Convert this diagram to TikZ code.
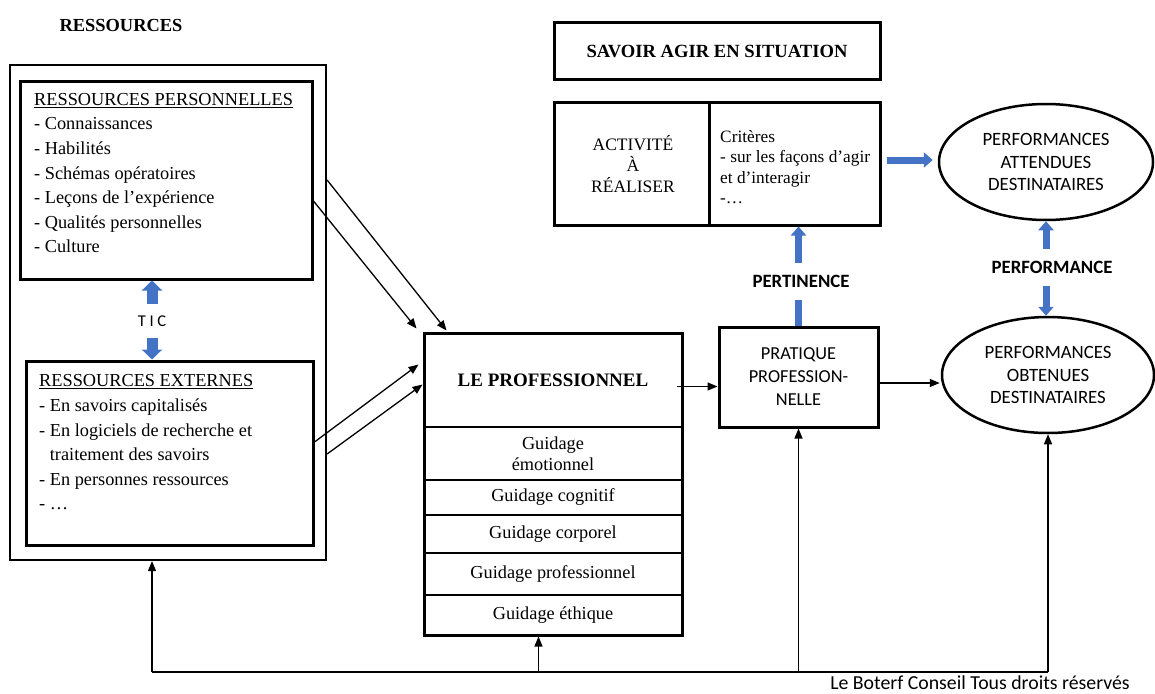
\documentclass[tikz,border=0pt]{standalone}
\usepackage{fontspec}
\setmainfont{Liberation Serif}
\newfontfamily\calib{Carlito}
\usetikzlibrary{arrows.meta,calc,shapes.geometric}
\definecolor{officeblue}{HTML}{4472C4}
\tikzset{
  box/.style={draw, line width=3pt, inner sep=0pt},
  band/.style={inner sep=0pt, minimum width=258pt, align=center, font=\fontsize{18.3}{20.5}\selectfont},
  ell/.style={draw, ellipse, line width=2.5pt, inner sep=0pt, minimum width=214pt, minimum height=116pt, align=center, font=\calib\fontsize{18.8}{22.8}\selectfont},
  conn/.style={line width=1.3pt, -{Triangle[width=8pt,length=10pt]}},
  plainconn/.style={line width=1.3pt},
  bluemid/.style={officeblue, line width=7pt, -{Triangle[width=15pt,length=9pt]}},
  bluemidboth/.style={officeblue, line width=7pt, {Triangle[width=15pt,length=9pt]}-{Triangle[width=15pt,length=9pt]}},
  bluebigboth/.style={officeblue, line width=11pt, {Triangle[width=20pt,length=10pt]}-{Triangle[width=20pt,length=10pt]}},
  listtext/.style={inner sep=0pt, anchor=north west, align=left, font=\fontsize{18.3}{24.6}\selectfont},
  bluelabel/.style={fill=white, inner xsep=2pt, inner ysep=0pt, minimum height=37pt, font=\calib\bfseries\fontsize{18.8}{22}\selectfont}
}
\begin{document}
\begin{tikzpicture}[x=1pt,y=-1pt]
\useasboundingbox (0,0) rectangle (1155,693);

% titles
\node[font=\bfseries\fontsize{18.4}{22}\selectfont] (restitle) at (121,25) {RESSOURCES};

% left boxes
\node[draw, line width=2.2pt, minimum width=316pt, minimum height=495pt, inner sep=0pt] (outer) at (168,312.5) {};
\node[box, minimum width=292pt, minimum height=198pt] (personal) at (166,180) {};
\node[listtext] (personaltext) at (34,93) {\underline{RESSOURCES PERSONNELLES}\\- Connaissances\\- Habilités\\- Schémas opératoires\\- Leçons de l’expérience\\- Qualités personnelles\\- Culture};
\node[box, minimum width=287pt, minimum height=184pt] (ext) at (169.5,453) {};
\node[listtext] (exttext) at (39,374.5) {\underline{RESSOURCES EXTERNES}\\- En savoirs capitalisés\\- En logiciels de recherche et\\\hphantom{- }traitement des savoirs\\- En personnes ressources\\- \dots};

% TIC
\coordinate (ticpos) at (152,321);
\draw[bluebigboth] (ticpos |- ext.north) -- (ticpos |- personal.south);
\node[fill=white, inner sep=1pt, minimum height=34pt, font=\calib\fontsize{16.5}{18}\selectfont] (tic) at (ticpos) {T I C};

% professionnel
\node[box, minimum width=258pt, minimum height=302pt] (prof) at (553,484) {};
\node[font=\bfseries\fontsize{19}{22}\selectfont] (proftitle) at (553,380) {LE PROFESSIONNEL};
\node[band, minimum height=53pt] (g1) at (553,453.5) {Guidage\\émotionnel};
\node[band, minimum height=35pt] (g2) at (553,497.5) {Guidage cognitif};
\node[band, minimum height=38pt] (g3) at (553,534) {Guidage corporel};
\node[band, minimum height=42pt] (g4) at (553,574) {Guidage professionnel};
\node[band, minimum height=40pt] (g5) at (553,615) {Guidage éthique};
\foreach \g in {g1,g2,g3,g4,g5} \draw[line width=2pt] (\g.north west) -- (\g.north east);

% savoir agir
\node[box, minimum width=326pt, minimum height=56pt, font=\bfseries\fontsize{18.6}{22}\selectfont] (savoir) at (717,51) {SAVOIR AGIR EN SITUATION};
\node[box, minimum width=326pt, minimum height=123pt] (activite) at (717,163.5) {};
\draw[line width=3pt] ($(activite.north west)+(157,0)$) -- ($(activite.south west)+(157,0)$);
\node[align=center, inner sep=0pt, font=\fontsize{17.5}{21}\selectfont] (acttext) at (633,164) {ACTIVITÉ\\À\\RÉALISER};
\node[listtext, font=\fontsize{17.3}{20.5}\selectfont] (crit) at (720,130) {Critères\\- sur les façons d’agir\\et d’interagir\\-\dots};

% pratique
\node[box, minimum width=159pt, minimum height=100pt, align=center, font=\calib\fontsize{18.3}{23}\selectfont] (pratique) at (798.5,377) {PRATIQUE\\PROFESSION-\\NELLE};

% ellipses
\node[ell] (att) at (1046,162) {PERFORMANCES\\ATTENDUES\\DESTINATAIRES};
\node[ell, minimum width=212pt] (obt) at (1048,375) {PERFORMANCES\\OBTENUES\\DESTINATAIRES};

% blue arrows
\draw[bluemid] (pratique.north) -- (pratique.north |- activite.south);
\node[bluelabel] (pert) at (801,281) {PERTINENCE};
\draw[bluemidboth] (att.south) -- (att.south |- obt.north);
\node[bluelabel] (perf) at (1052,267) {PERFORMANCE};
\coordinate (hstart) at ($(activite.east)+(5,-3.5)$);
\draw[bluemid] (hstart) -- ($(hstart -| att.west)+(-5,0)$);

% black connectors
\coordinate (ps1) at ($(personal.east)+(0,21)$);
\coordinate (ps2) at (outer.east |- personal.east);
\draw[conn] (ps1) -- ($(prof.north west)+(-6,-3)$);
\draw[conn] (ps2) -- ($(prof.north west)+(24,-1)$);
\coordinate (es1) at ($(ext.east)+(0,-11)$);
\coordinate (es2) at (outer.east |- {$(ext.east)+(0,1)$});
\draw[conn] (es1) -- ($(prof.north west)+(-4,33)$);
\draw[conn] (es2) -- ($(prof.north west)+(0,53)$);

\coordinate (pp) at ($(prof.north east)+(-7,55)$);
\draw[conn] (pp) -- (pp -| pratique.west);
\coordinate (po) at ($(pratique.east)+(0,6)$);
\draw[conn] (po) -- ($(po -| obt.west)+(-1,0)$);

% feedback loop
\coordinate (bl) at (152,672);
\coordinate (br) at (obt.south |- bl);
\coordinate (pb) at ($(prof.south west)+(116,0)$);
\draw[plainconn] (bl) -- (br);
\draw[conn] (bl) -- (bl |- outer.south);
\draw[conn] (pb |- bl) -- (pb);
\draw[conn] (pratique.south |- bl) -- (pratique.south);
\draw[conn] (br) -- (obt.south);

% copyright
\node[anchor=base, inner sep=0pt, font=\calib\fontsize{19.8}{21}\selectfont] (copy) at (980,689.5) {Le Boterf Conseil Tous droits réservés};
\end{tikzpicture}
\end{document}
